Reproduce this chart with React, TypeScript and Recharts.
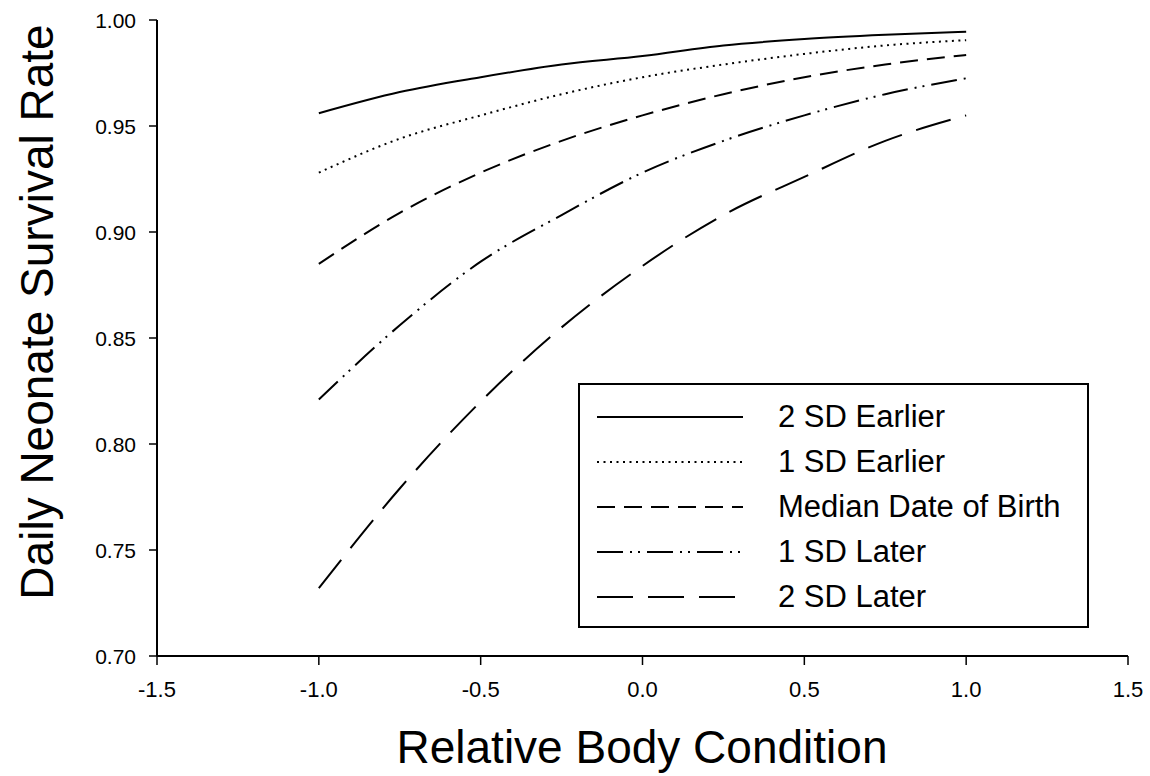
import React from "react";
import { LineChart, Line, XAxis, YAxis, Legend, Label } from "recharts";

const xValues = [-1, -0.75, -0.5, -0.25, 0, 0.25, 0.5, 0.75, 1];
const sd2Earlier = [0.956, 0.966, 0.973, 0.979, 0.983, 0.988, 0.991, 0.993, 0.9945];
const sd1Earlier = [0.928, 0.944, 0.955, 0.965, 0.973, 0.979, 0.984, 0.988, 0.9905];
const medianBirth = [0.885, 0.909, 0.928, 0.943, 0.955, 0.965, 0.973, 0.979, 0.9835];
const sd1Later = [0.821, 0.856, 0.886, 0.908, 0.928, 0.943, 0.955, 0.965, 0.9725];
const sd2Later = [0.732, 0.779, 0.82, 0.855, 0.884, 0.908, 0.926, 0.943, 0.955];

const xTicks = [-1.5, -1.0, -0.5, 0, 0.5, 1.0, 1.5];
const yTicks = [0.7, 0.75, 0.8, 0.85, 0.9, 0.95, 1.0];

const FONT = "Arial, 'Liberation Sans', sans-serif";

// series name, data key, dash pattern
const series = [
  { key: "sd2Earlier", name: "2 SD Earlier", dash: undefined },
  { key: "sd1Earlier", name: "1 SD Earlier", dash: "2 4.5" },
  { key: "medianBirth", name: "Median Date of Birth", dash: "18 9" },
  { key: "sd1Later", name: "1 SD Later", dash: "26 7 2 6 2 7" },
  { key: "sd2Later", name: "2 SD Later", dash: "36 15" },
];

const data = xValues.map((x, i) => ({
  x,
  sd2Earlier: sd2Earlier[i],
  sd1Earlier: sd1Earlier[i],
  medianBirth: medianBirth[i],
  sd1Later: sd1Later[i],
  sd2Later: sd2Later[i],
}));

function XTick(props: any) {
  const { x, y, payload } = props;
  return (
    <text x={x} y={y} dy={16} textAnchor="middle" fontSize={22} fontFamily={FONT} fill="#000">
      {Number(payload.value).toFixed(1)}
    </text>
  );
}

function YTick(props: any) {
  const { x, y, payload } = props;
  return (
    <text x={x} y={y} dy={7.5} textAnchor="end" fontSize={21} fontFamily={FONT} fill="#000">
      {Number(payload.value).toFixed(2)}
    </text>
  );
}

function LegendBox() {
  return (
    <div
      style={{
        border: "2px solid #000",
        boxSizing: "border-box",
        width: 511,
        height: 245,
        paddingTop: 9,
        fontFamily: FONT,
        background: "#fff",
      }}
    >
      {series.map((s) => (
        <div key={s.key} style={{ display: "flex", alignItems: "center", height: 45 }}>
          <svg width={146} height={10} style={{ marginLeft: 17, marginRight: 35 }}>
            <line x1={0} y1={5} x2={146} y2={5} stroke="#000" strokeWidth={2} strokeDasharray={s.dash} />
          </svg>
          <span style={{ fontSize: 31, color: "#000" }}>{s.name}</span>
        </div>
      ))}
    </div>
  );
}

export default function App() {
  return (
    <div style={{ position: "absolute", left: 0, top: 0, background: "#fff" }}>
      <LineChart width={1150} height={776} data={data} margin={{ top: 20, right: 22, left: 0, bottom: 0 }}>
        <XAxis
          type="number"
          dataKey="x"
          domain={[-1.5, 1.5]}
          ticks={xTicks}
          height={120}
          stroke="#000"
          axisLine={{ stroke: "#000", strokeWidth: 2 }}
          tickLine={{ stroke: "#000", strokeWidth: 1.5 }}
          tickSize={9}
          tickMargin={16}
          tick={<XTick />}
        >
          <Label
            content={() => (
              <text x={642} y={763} textAnchor="middle" fontSize={46} fontFamily={FONT} fill="#000">
                Relative Body Condition
              </text>
            )}
          />
        </XAxis>
        <YAxis
          type="number"
          domain={[0.7, 1.0]}
          ticks={yTicks}
          width={157}
          stroke="#000"
          axisLine={{ stroke: "#000", strokeWidth: 2 }}
          tickLine={{ stroke: "#000", strokeWidth: 1.5 }}
          tickSize={8}
          tickMargin={13}
          tick={<YTick />}
        >
          <Label
            content={() => (
              <text
                x={0}
                y={0}
                transform="translate(53,312) rotate(-90)"
                textAnchor="middle"
                fontSize={46}
                fontFamily={FONT}
                fill="#000"
              >
                Daily Neonate Survival Rate
              </text>
            )}
          />
        </YAxis>
        {series.map((s) => (
          <Line
            key={s.key}
            type="monotone"
            dataKey={s.key}
            name={s.name}
            stroke="#000"
            strokeWidth={2}
            strokeDasharray={s.dash}
            dot={false}
            activeDot={false}
            isAnimationActive={false}
          />
        ))}
        <Legend
          layout="vertical"
          align="center"
          verticalAlign="middle"
          content={() => <LegendBox />}
          wrapperStyle={{ position: "absolute", left: 578, top: 383, width: 511, height: 245 }}
        />
      </LineChart>
    </div>
  );
}
